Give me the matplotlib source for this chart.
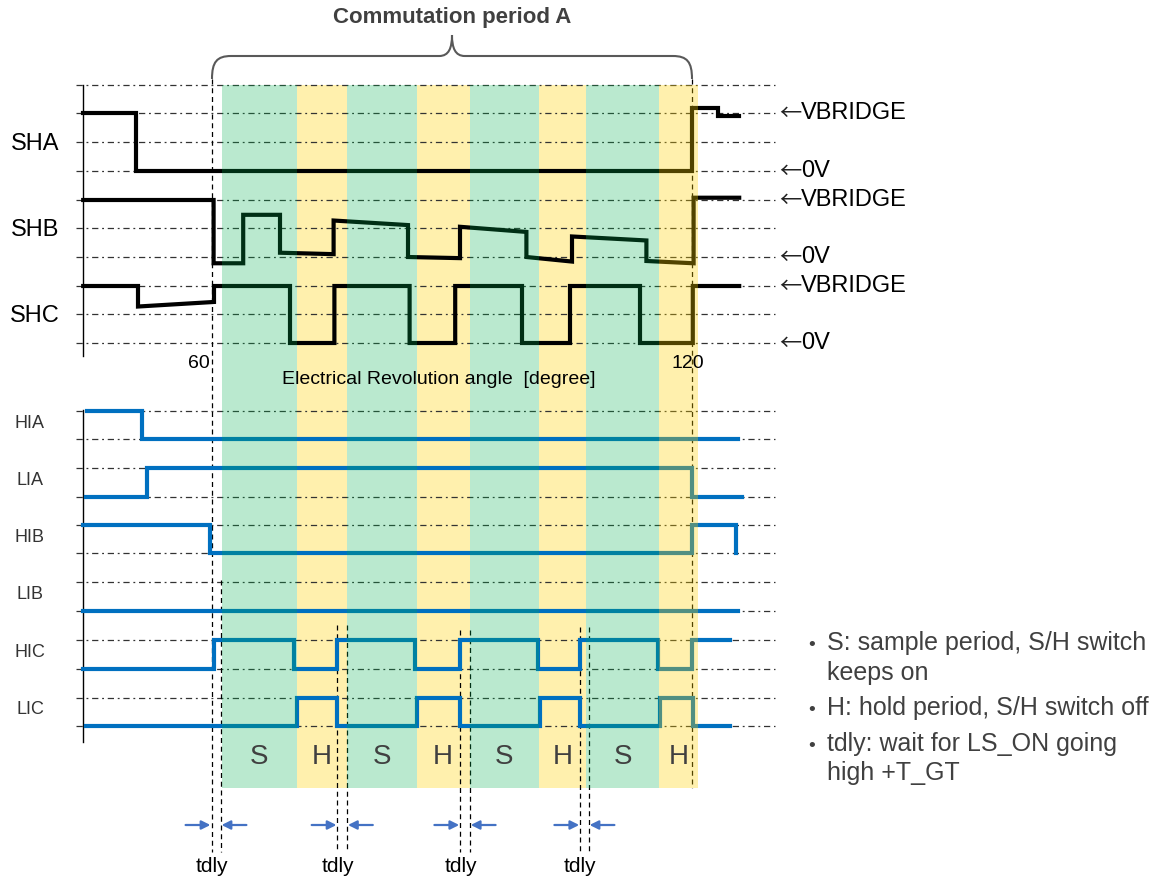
import numpy as np
import matplotlib
matplotlib.use("Agg")
import matplotlib.pyplot as plt
from matplotlib.path import Path
from matplotlib.patches import PathPatch

plt.rcParams['font.family'] = ['Liberation Sans', 'DejaVu Sans']

#--------------------------------------------------------------#
# Signals: edges in electrical degrees, levels 0 = low, 1 = high
sha_edges = [43.9, 50.5, 120.0, 123.3, 125.9]
sha_lvl = [1.0, 0.0, 1.08, 0.94]

shb_edges = [43.9, 60.2, 63.9, 68.5, 75.2, 84.5, 91.0, 99.3, 105.0, 114.3, 120.2, 125.9]
shb_lvl = [1.0, -0.11, 0.74, 0.075, 0.64, 0.0, 0.53, 0.0, 0.36, -0.07, 1.04]
shb_lvl_end = [1.0, -0.11, 0.74, 0.05, 0.56, -0.02, 0.44, -0.08, 0.29, -0.11, 1.04]

shc_edges = [43.9, 50.75, 60.25, 69.75, 75.3, 84.7, 90.4, 98.75, 104.75, 113.5, 120.1, 125.9]
shc_lvl = [1, 0.64, 1, 0, 1, 0, 1, 0, 1, 0, 1]
shc_lvl_end = [1, 0.72, 1, 0, 1, 0, 1, 0, 1, 0, 1]

hia_edges = [44.35, 51.2, 125.8]
hia_lvl = [1, 0]
lia_edges = [44.25, 51.9, 120.0, 126.25]
lia_lvl = [0, 1, 0]
hib_edges = [43.9, 59.7, 120.0, 125.5, 125.5]
hib_lvl = [1, 0, 1, 0]
lib_edges = [43.9, 125.75]
lib_lvl = [0]
hic_edges = [43.9, 60.25, 70.3, 75.6, 85.4, 90.95, 100.7, 106.0, 115.75, 120.0, 124.7]
hic_lvl = [0, 1, 0, 1, 0, 1, 0, 1, 0, 1]
lic_edges = [44.25, 70.6, 75.6, 85.6, 90.95, 101.0, 106.0, 116.05, 120.1, 124.7]
lic_lvl = [0, 1, 0, 1, 0, 1, 0, 1, 0]

# sample / hold windows
band_edges = [61.25, 70.6, 76.9, 85.6, 92.2, 100.9, 106.8, 115.9, 120.7]
band_names = ['S', 'H', 'S', 'H', 'S', 'H', 'S', 'H']

# tdly pairs (HIC edge, start of sample)
tdly_a = [59.9, 75.66, 91.0, 106.0]
tdly_b = [61.1, 76.9, 92.25, 107.1]

period_start, period_end = 60, 120

notes = ["S: sample period, S/H switch", "keeps on",
         "H: hold period, S/H switch off", "tdly: wait for LS_ON going", "high +T_GT"]

#--------------------------------------------------------------#
def px(x):
    # picture column -> degrees (60 deg at 212 px, 8 px per degree)
    return 60 + (x - 212) / 8.0


def wave(edges, lvl, lvl_end, y_low, y_high):
    if lvl_end is None:
        lvl_end = lvl
    xs, ys = [], []
    for i in range(len(lvl)):
        xs += [edges[i], edges[i + 1]]
        ys += [lvl[i], lvl_end[i]]
    ys = y_low - np.array(ys) * (y_low - y_high)
    return xs, ys


fig = plt.figure(figsize=(11.6, 8.83), dpi=100)
ax = fig.add_axes([0, 0, 1, 1])
ax.set_xlim(px(0), px(1160))
ax.set_ylim(883, 0)
ax.axis('off')

grid_style = dict(color='#333333', lw=0.9, ls=(0, (5, 3, 1.5, 3)), zorder=1)
dash_style = dict(color='black', lw=0.9, ls=(0, (4, 3)), zorder=1)

# horizontal guide lines
top_grid = [85, 113, 142, 171, 200, 228, 257, 286, 314, 343]
low_grid = [411, 439, 468, 497, 525, 553, 582, 611, 640, 669, 698, 726]
for y in top_grid + low_grid:
    ax.plot([px(76), px(775)], [y, y], **grid_style)

# left axis lines
ax.plot([px(83), px(83)], [85, 356], color='black', lw=1, zorder=1)
ax.plot([px(83), px(83)], [410, 742], color='black', lw=1, zorder=1)

# bands
for i, name in enumerate(band_names):
    x0, x1 = band_edges[i], band_edges[i + 1]
    last = i == len(band_names) - 1
    if name == 'S':
        ax.axvspan(x0, x1, ymin=1 - 788 / 883, ymax=1 - 85 / 883,
                   color='#00b050', alpha=0.27, lw=0, zorder=3)
    else:
        ax.axvspan(x0, x1, ymin=1 - 788 / 883, ymax=1 - 85 / 883,
                   color='#ffd200', alpha=0.32, lw=0, zorder=3 if last else 0)
    ax.text((x0 + x1) / 2, 757, name, ha='center', va='center',
            fontsize=20, color='#404040', zorder=5)

# period markers and tdly lines
ax.plot([period_start, period_start], [79, 852], **dash_style)
ax.plot([period_end, period_end], [79, 788], **dash_style)
tdly_top_a = [79, 625, 630, 627]
tdly_top_b = [580, 625, 630, 627]
for a, b, ta, tb in zip(tdly_a, tdly_b, tdly_top_a, tdly_top_b):
    if a != tdly_a[0]:
        ax.plot([a, a], [ta, 852], **dash_style)
    ax.plot([b, b], [tb, 852], **dash_style)
    arrow = dict(arrowstyle='-|>', color='#4472c4', lw=1.6, mutation_scale=13,
                 shrinkA=0, shrinkB=0)
    ax.annotate('', xy=(a - 0.1, 825), xytext=(a - 3.2, 825), arrowprops=arrow)
    ax.annotate('', xy=(b + 0.1, 825), xytext=(b + 3.2, 825), arrowprops=arrow)
    ax.text((a + b) / 2 - 0.5, 866, 'tdly', ha='center', va='center', fontsize=15)

# phase voltages
top_sig = [('SHA', sha_edges, sha_lvl, None, 171, 113),
           ('SHB', shb_edges, shb_lvl, shb_lvl_end, 257, 200),
           ('SHC', shc_edges, shc_lvl, shc_lvl_end, 343, 286)]
arrow_font = ['Noto Sans CJK JP', 'DejaVu Sans']
for name, e, l, le, ylo, yhi in top_sig:
    xs, ys = wave(e, l, le, ylo, yhi)
    ax.plot(xs, ys, color='black', lw=3, solid_joinstyle='miter', zorder=2)
    ax.text(px(35), (ylo + yhi) / 2 + 2, name, ha='center', va='center', fontsize=17)
    for y, lab in [(yhi, 'VBRIDGE'), (ylo, '0V')]:
        ax.text(px(779), y + 1, '\u2190', ha='left', va='center', fontsize=16,
                family=arrow_font, color='#222222')
        ax.text(px(801), y, lab, ha='left', va='center', fontsize=17)

# gate signals
low_sig = [('HIA', hia_edges, hia_lvl, 439, 411),
           ('LIA', lia_edges, lia_lvl, 497, 468),
           ('HIB', hib_edges, hib_lvl, 553, 525),
           ('LIB', lib_edges, lib_lvl, 611, 582),
           ('HIC', hic_edges, hic_lvl, 669, 640),
           ('LIC', lic_edges, lic_lvl, 726, 698)]
for name, e, l, ylo, yhi in low_sig:
    xs, ys = wave(e, l, None, ylo, yhi)
    ax.plot(xs, ys, color='#0070c0', lw=3, solid_joinstyle='miter', zorder=2)
    ax.text(px(30), (ylo + yhi) / 2 - 2, name, ha='center', va='center',
            fontsize=13, color='#333333')

# curly brace over the commutation period
xm = (period_start + period_end) / 2
verts = [(period_start, 79),
         (period_start, 62), (period_start + 0.6, 56), (period_start + 2.4, 56),
         (xm - 1.6, 56),
         (xm - 0.4, 56), (xm, 48), (xm, 35),
         (xm, 48), (xm + 0.4, 56), (xm + 1.6, 56),
         (period_end - 2.4, 56),
         (period_end - 0.6, 56), (period_end, 62), (period_end, 79)]
codes = [Path.MOVETO] + [Path.CURVE4] * 3 + [Path.LINETO] + [Path.CURVE4] * 6 + \
        [Path.LINETO] + [Path.CURVE4] * 3
ax.add_patch(PathPatch(Path(verts, codes), fill=False, color='#595959', lw=1.5))
ax.text(xm, 18, 'Commutation period A', ha='center', va='center',
        fontsize=16, fontweight='bold', color='#404040')

# axis text
ax.text(px(199), 364, '60', ha='center', va='center', fontsize=14)
ax.text(px(688), 364, '120', ha='center', va='center', fontsize=14)
ax.text(px(282), 380, 'Electrical Revolution angle  [degree]', ha='left',
        va='center', fontsize=14, zorder=5)

# notes on the right
note_y = [650, 680, 715, 751, 780]
for txt, y in zip(notes, note_y):
    if txt[0].isupper() or txt.startswith('tdly'):
        ax.text(px(812), y, '\u2022', ha='center', va='baseline',
                fontsize=14, color='#404040')
    ax.text(px(827), y, txt, ha='left', va='baseline', fontsize=18, color='#404040')

fig.savefig('out.png', dpi=100)
